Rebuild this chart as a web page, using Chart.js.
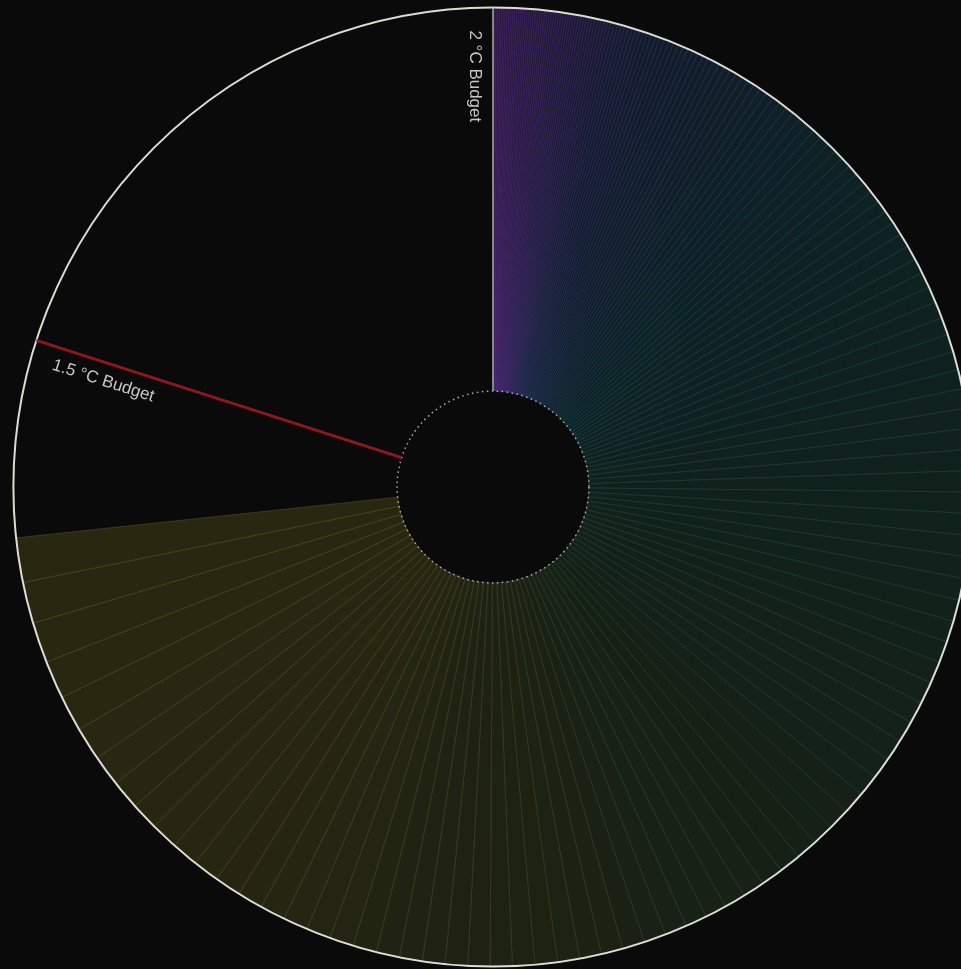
<!DOCTYPE html>
<html>
<head>
<meta charset="utf-8">
<script src="https://cdn.jsdelivr.net/npm/chart.js@4.4.1/dist/chart.umd.min.js"></script>
<style>
    html, body { margin: 0; padding: 0; background: #0a0a0a; overflow: hidden; }
    #wrap { position: absolute; left: 0; top: 0; width: 986px; height: 974px; }
</style>
</head>
<body>
<div id="wrap"><canvas id="budget-chart" width="986" height="974"></canvas></div>
<script>
// Annual CO2 emissions (Gt CO2), one slice per year from 1850
const START_YEAR = 1850;
const emissions = [
    2.1, 2.1, 2.2, 2.2, 2.2, 2.3, 2.3, 2.3, 2.4, 2.4,
    2.4, 2.5, 2.5, 2.5, 2.5, 2.6, 2.6, 2.6, 2.7, 2.7,
    2.7, 2.7, 2.8, 2.8, 2.8, 2.8, 2.9, 2.9, 2.9, 2.9,
    3.0, 3.0, 3.0, 3.0, 3.1, 3.1, 3.1, 3.1, 3.2, 3.2,
    3.3, 3.4, 3.5, 3.5, 3.6, 3.7, 3.8, 3.9, 4.0, 4.1,
    4.2, 4.3, 4.4, 4.5, 4.6, 4.7, 4.8, 4.9, 5.0, 5.1,
    5.2, 5.4, 5.5, 5.7, 5.8, 6.0, 6.1, 6.3, 6.4, 6.6,
    6.8, 6.9, 7.1, 7.3, 7.5, 7.6, 7.8, 8.0, 8.3, 8.5,
    8.7, 9.0, 9.2, 9.5, 9.8, 10.1, 10.4, 10.7, 11.0, 11.3,
    11.6, 11.9, 12.2, 12.5, 12.8, 13.1, 13.4, 13.8, 14.4, 15.0,
    15.6, 16.3, 17.0, 17.6, 18.3, 19.0, 19.7, 20.4, 21.1, 21.8,
    22.5, 23.2, 23.9, 24.6, 25.3, 26.0, 26.6, 26.8, 27.0, 27.3,
    26.9, 27.1, 27.4, 27.2, 26.8, 27.0, 27.5, 27.7, 27.3, 27.0,
    26.9, 27.2, 27.6, 27.8, 27.4, 27.1, 27.3, 27.6, 27.9, 27.5,
    27.2, 27.0, 27.3, 27.7, 28.0, 27.8, 27.4, 27.6, 27.9, 28.2,
    28.0, 27.7, 27.9, 28.3, 28.5, 28.8, 29.3, 29.8, 30.3, 30.8,
    31.3, 31.8, 32.3, 32.8, 33.3, 33.8, 34.3, 34.8, 37.0, 39.0,
    42.0, 45.0, 48.0, 51.0, 52.0, 56.0
];

// Total budgets (Gt CO2 since 1850)
const budget15 = 2990;
const budget20 = 3740;
const budgetLabels = ['1.5 °C Budget', '2 °C Budget'];

// Colour stops along the emitted part (fraction of used budget -> rgb)
const colorStops = [
    [0.00, [38, 20, 52]],
    [0.03, [30, 22, 48]],
    [0.07, [20, 26, 42]],
    [0.17, [14, 34, 38]],
    [0.34, [16, 33, 28]],
    [0.57, [23, 33, 21]],
    [0.68, [30, 34, 19]],
    [0.83, [40, 38, 17]],
    [1.00, [42, 39, 16]]
];

function colorAt(f) {
    for (let i = 1; i < colorStops.length; i++) {
        const [f1, c1] = colorStops[i];
        const [f0, c0] = colorStops[i - 1];
        if (f <= f1) {
            const t = (f - f0) / (f1 - f0);
            return c0.map((v, k) => v + (c1[k] - v) * t);
        }
    }
    return colorStops[colorStops.length - 1][1];
}

const used = emissions.reduce((a, b) => a + b, 0);
const labels = emissions.map((_, i) => String(START_YEAR + i)).concat(['Remaining to 1.5 °C', 'Remaining to 2 °C']);
const values = emissions.concat([budget15 - used, budget20 - budget15]);

const fills = [];
const borders = [];
const borderWidths = [];
let running = 0;
emissions.forEach(function(v) {
    const c = colorAt((running + v / 2) / used);
    running += v;
    fills.push(`rgb(${c[0]}, ${c[1]}, ${c[2]})`);
    borders.push(`rgba(${Math.round(c[0] * 2.1)}, ${Math.round(c[1] * 2.1)}, ${Math.round(c[2] * 2.3)}, 0.72)`);
    borderWidths.push(0.8);
});
fills.push('rgba(0,0,0,0)', 'rgba(0,0,0,0)');
borders.push('rgba(0,0,0,0)', 'rgba(0,0,0,0)');
borderWidths.push(0, 0);

// Outer ring, dotted inner ring, budget markers and their labels
const budgetMarkers = {
    id: 'budgetMarkers',
    afterDraw(chart) {
        const arcs = chart.getDatasetMeta(0).data;
        const first = arcs[0];
        const cx = first.x, cy = first.y;
        const rIn = first.innerRadius, rOut = first.outerRadius;
        const ctx = chart.ctx;
        ctx.save();

        // outer circle
        ctx.beginPath();
        ctx.arc(cx, cy, rOut, 0, Math.PI * 2);
        ctx.strokeStyle = 'rgba(232, 232, 222, 0.95)';
        ctx.lineWidth = 2;
        ctx.stroke();

        // dotted inner circle
        ctx.beginPath();
        ctx.arc(cx, cy, rIn, 0, Math.PI * 2);
        ctx.setLineDash([1.5, 3.5]);
        ctx.strokeStyle = 'rgba(190, 190, 190, 0.9)';
        ctx.lineWidth = 1.5;
        ctx.stroke();
        ctx.setLineDash([]);

        function radial(angle, color, width) {
            ctx.beginPath();
            ctx.moveTo(cx + Math.cos(angle) * rIn, cy + Math.sin(angle) * rIn);
            ctx.lineTo(cx + Math.cos(angle) * rOut, cy + Math.sin(angle) * rOut);
            ctx.strokeStyle = color;
            ctx.lineWidth = width;
            ctx.stroke();
        }

        function label(angle, text) {
            ctx.save();
            ctx.translate(cx + Math.cos(angle) * rOut, cy + Math.sin(angle) * rOut);
            ctx.rotate(angle + Math.PI);
            ctx.font = '17px "Liberation Sans", Arial, sans-serif';
            ctx.fillStyle = 'rgba(210, 210, 210, 0.95)';
            ctx.textBaseline = 'alphabetic';
            ctx.fillText(text, 23, 23);
            ctx.restore();
        }

        const a20 = first.startAngle;
        const a15 = arcs[emissions.length].endAngle;
        radial(a20, 'rgba(175, 175, 175, 0.95)', 1.5);
        radial(a15, 'rgba(150, 24, 28, 0.95)', 3);
        label(a20, budgetLabels[1]);
        label(a15, budgetLabels[0]);

        ctx.restore();
    }
};

const canvas = document.getElementById('budget-chart');
new Chart(canvas.getContext('2d'), {
    type: 'doughnut',
    data: {
        labels: labels,
        datasets: [{
            data: values,
            backgroundColor: fills,
            borderColor: borders,
            borderWidth: borderWidths
        }]
    },
    options: {
        responsive: false,
        animation: false,
        cutout: '20%',
        layout: { padding: 7 },
        plugins: {
            legend: { display: false },
            tooltip: { enabled: false }
        }
    },
    plugins: [budgetMarkers]
});
</script>
</body>
</html>
